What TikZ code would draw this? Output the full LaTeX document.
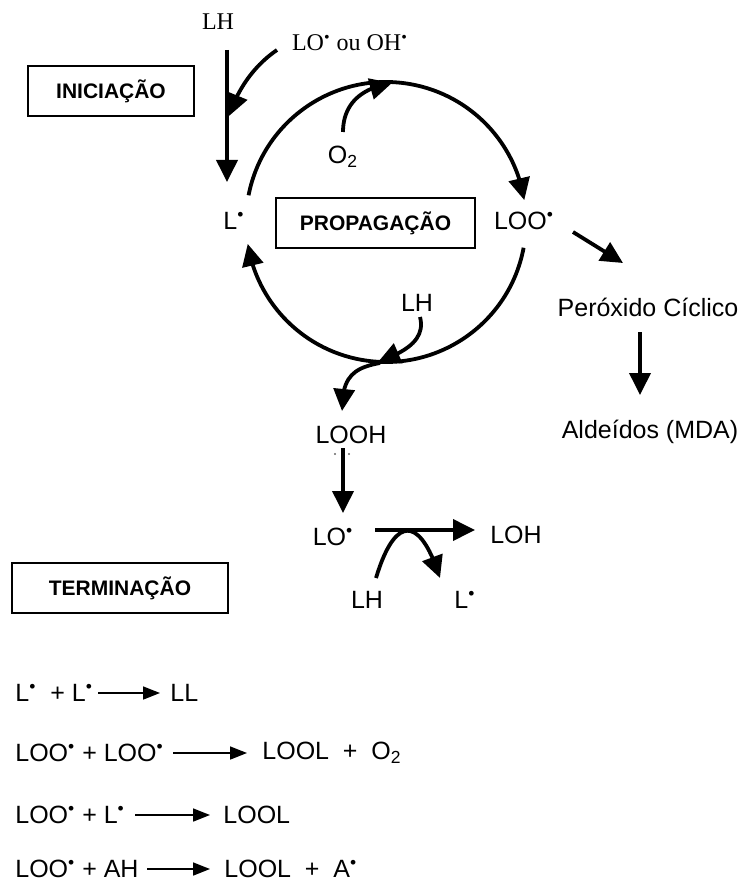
\documentclass[tikz,border=0pt]{standalone}
\usepackage{fontspec}
\setmainfont{Liberation Sans}
\newfontfamily\tms{Liberation Serif}
\usetikzlibrary{arrows.meta,bending}
\newcommand\rad{\textsuperscript{\textbullet}}
\begin{document}
\begin{tikzpicture}[x=0.5pt,y=-0.5pt,
  lbl/.style={inner sep=0pt, font=\fontsize{12.5}{14}\selectfont},
  tlbl/.style={inner sep=0pt, font=\tms\fontsize{12}{14}\selectfont},
  stage/.style={draw, line width=0.65pt, inner sep=0pt, minimum height=25pt, font=\bfseries\fontsize{10.5}{12}\selectfont},
  big/.style={line width=1.9pt, -{Triangle[length=11pt,width=10.5pt]}},
  eqarr/.style={line width=0.85pt, -{Triangle[length=8.5pt,width=6.5pt]}},
  eq/.style={inner sep=0pt, anchor=west, font=\fontsize{12.5}{14}\selectfont}]
\useasboundingbox (0,0) rectangle (742,882);

% ---------- labels ----------
\node[tlbl] (lhtop) at (218,22) {LH};
\node[tlbl] (lo) at (350,43) {LO\rad{} ou OH\rad};
\node[stage, minimum width=83pt] (ini) at (111,91) {INICIAÇÃO};
\node[lbl] (L) at (234,221) {L\rad};
\node[stage, minimum width=99.5pt] (prop) at (375.5,223) {PROPAGAÇÃO};
\node[lbl] (LOO) at (524,221) {LOO\rad};
\node[lbl] (O2) at (343,157) {O\textsubscript{2}};
\node[lbl] (lhmid) at (417,303) {LH};
\node[lbl] (perox) at (648,307) {Peróxido Cíclico};
\node[lbl] (ald) at (650,432) {Aldeídos (MDA)};
\node[lbl] (LOOH) at (351,435) {LOOH};
\node[lbl] (LOr) at (333,537) {LO\rad};
\node[lbl] (LOH) at (516,535) {LOH};
\node[lbl] (lhbot) at (367,600) {LH};
\node[lbl] (Lbot) at (465,600) {L\rad};
\node[stage, minimum width=108pt] (term) at (120,588) {TERMINAÇÃO};

% small marks under LOOH
\fill[black!60] (335,454) circle (0.6pt);
\fill[black!60] (349,454) circle (0.6pt);

% ---------- coordinates ----------
\coordinate (c) at (386,222);
\coordinate (lhA) at (227,50);
\coordinate (lhB) at (227,182);
\coordinate (loA) at (277,50);
\coordinate (loB) at (229,116);
\coordinate (o2A) at (343,132);
\coordinate (o2B) at (392,83);
\coordinate (lmA) at (420,317);
\coordinate (lmB) at (378,362);
\coordinate (sA) at (380,363);
\coordinate (sB) at (342,411);
\coordinate (pA) at (573,232);
\coordinate (pB) at (623,263);
\coordinate (aA) at (640,332);
\coordinate (aB) at (640,395);
\coordinate (hA) at (343,448);
\coordinate (hB) at (343,513);
\coordinate (rA) at (375,530);
\coordinate (rB) at (475,530);
\coordinate (bA) at (376,578);
\coordinate (bB) at (440,578);

% ---------- initiation ----------
\draw[big] (lhA) -- (lhB);
\draw[big] (loA) .. controls (255,65) and (238,88) .. (loB);

% ---------- propagation cycle ----------
\draw[big] ([shift={(169:70pt)}]c) arc[start angle=169, end angle=9, radius=70pt];
\draw[big] ([shift={(-10.6:70pt)}]c) arc[start angle=-10.6, end angle=-171, radius=70pt];
\draw[big] (o2A) .. controls (343,105) and (360,88) .. (o2B);
\draw[big] (lmA) .. controls (426,340) and (405,352) .. (lmB);
\draw[big] (sA) .. controls (352,368) and (342,378) .. (sB);

% ---------- side products ----------
\draw[big] (pA) -- (pB);
\draw[big] (aA) -- (aB);

% ---------- LOOH decomposition ----------
\draw[big] (hA) -- (hB);
\draw[big] (rA) -- (rB);
\draw[big] (bA) .. controls (395,515) and (420,515) .. (bB);

% ---------- termination equations ----------
\node[eq] (e1l) at (15,693) {L\rad{}~ + L\rad};
\coordinate (e1a) at (98,693); \coordinate (e1b) at (160,693);
\draw[eqarr] (e1a) -- (e1b);
\node[eq] (e1r) at (170,693) {LL};

\node[eq] (e2l) at (15,753) {LOO\rad{} + LOO\rad};
\coordinate (e2a) at (173,753); \coordinate (e2b) at (247,753);
\draw[eqarr] (e2a) -- (e2b);
\node[eq] (e2r) at (262,753) {LOOL~~+~~O\textsubscript{2}};

\node[eq] (e3l) at (15,815) {LOO\rad{} + L\rad};
\coordinate (e3a) at (135,815); \coordinate (e3b) at (210,815);
\draw[eqarr] (e3a) -- (e3b);
\node[eq] (e3r) at (223,815) {LOOL};

\node[eq] (e4l) at (15,869) {LOO\rad{} + AH};
\coordinate (e4a) at (147,869); \coordinate (e4b) at (210,869);
\draw[eqarr] (e4a) -- (e4b);
\node[eq] (e4r) at (224,869) {LOOL~~+~~A\rad};
\end{tikzpicture}
\end{document}
